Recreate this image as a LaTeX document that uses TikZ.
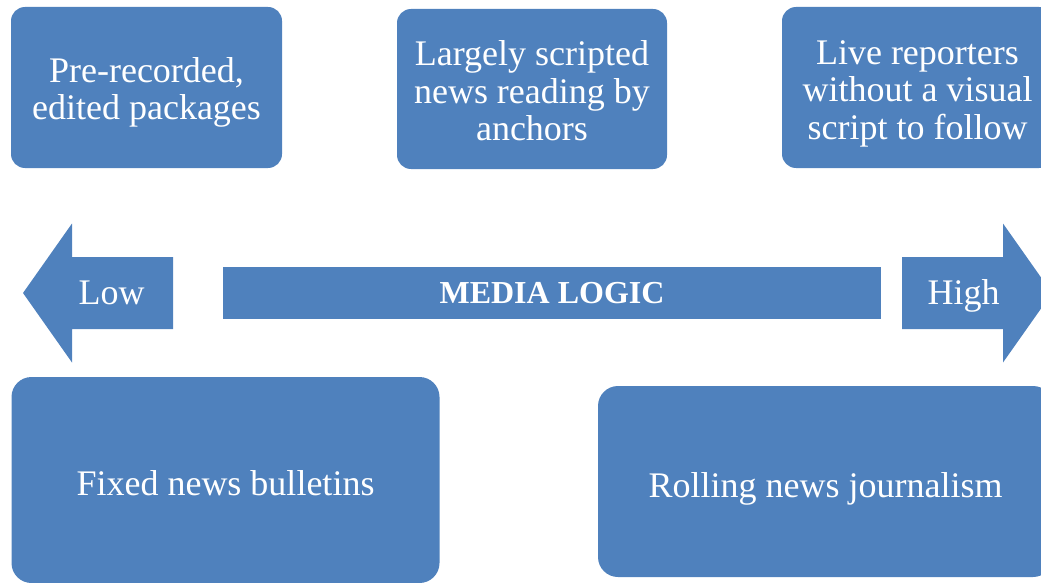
\documentclass[tikz,border=0pt]{standalone}
\usepackage{fontspec}
\setmainfont{Liberation Serif}
\usetikzlibrary{positioning}
\definecolor{logicblue}{HTML}{4F81BD}
\tikzset{
	mediabox/.style = {rectangle, rounded corners=14pt, fill=logicblue, inner sep=0pt}}
\tikzset{
	bigbox/.style = {mediabox, rounded corners=20pt}}
\tikzset{
	boxtext/.style = {text=white, align=center, inner sep=0pt, font=\fontsize{36}{37.5}\selectfont}}
\tikzset{
	armlabel/.style = {boxtext, anchor=base}}
\tikzset{
	bigarrow/.pic = {
	 \fill [logicblue] (0,0) -- (49,-69.5) -- (49,-36) -- (150,-36) -- (150,36) -- (49,36) -- (49,69.5) -- cycle;}}

\begin{document}
\begin{tikzpicture}[x=1pt, y=-1pt]
\clip (0,0) rectangle (1041,583);

% NODES
\node (recorded) [mediabox, minimum width=271, minimum height=161] at (146.5,87.5) {};
\node (scripted) [mediabox, minimum width=270, minimum height=160] at (532,89) {};
\node (live) [mediabox, minimum width=271, minimum height=161] at (917.5,87.5) {};
\node (fixed) [bigbox, minimum width=428, minimum height=206] at (225.5,480) {};
\node (rolling) [bigbox, minimum width=455, minimum height=191] at (825.5,481.5) {};

\node (recordedtext) [boxtext] at ([yshift=-5pt]recorded) {Pre-recorded,\\edited packages};
\node (scriptedtext) [boxtext] at ([yshift=-2pt]scripted) {Largely scripted\\news reading by\\anchors};
\node (livetext) [boxtext] at ([yshift=-6pt]live) {Live reporters\\without a visual\\script to follow};
\node (fixedtext) [boxtext] at ([yshift=-3pt]fixed) {Fixed news bulletins};
\node (rollingtext) [boxtext] at ([yshift=-7pt]rolling) {Rolling news journalism};

\node (logic) [rectangle, fill=logicblue, text=white, inner sep=0pt, minimum width=658, minimum height=52,
	font=\bfseries\fontsize{32}{34}\selectfont] at (552,293) {MEDIA LOGIC};

% ARROWS
\pic at (23,293) {bigarrow};
\pic [xscale=-1] at (1052,293) {bigarrow};
\node (low) [armlabel] at (111.5,304) {Low};
\node (high) [armlabel] at (963.5,304) {High};

\end{tikzpicture}
\end{document}
